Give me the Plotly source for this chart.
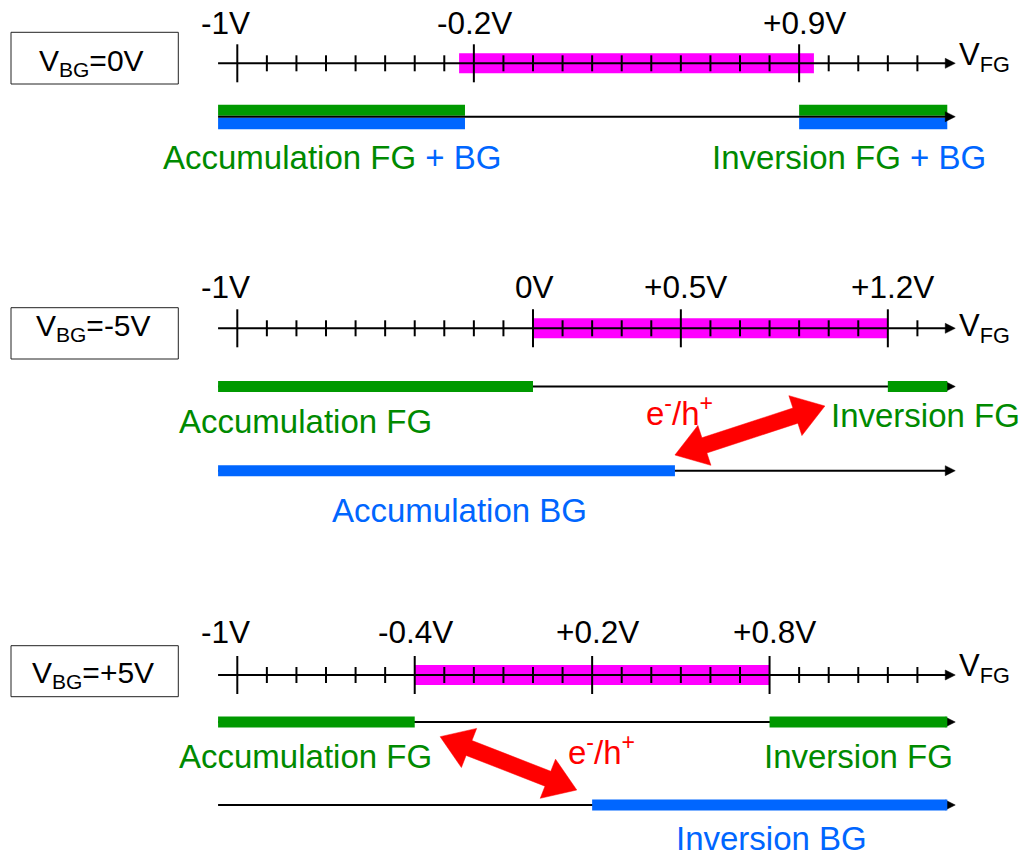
import numpy as np
import plotly.graph_objects as go

W, H = 1028, 856
FONT = "Liberation Sans, Arial, sans-serif"

# ---------------- data ----------------
panel_titles = ["V<sub>BG</sub>=0V", "V<sub>BG</sub>=-5V", "V<sub>BG</sub>=+5V"]
tick_start, tick_stop, tick_step = -1.0, 1.3, 0.1
major_ticks = [[-1.0, -0.2, 0.9], [-1.0, 0.0, 0.5, 1.2], [-1.0, -0.4, 0.2, 0.8]]
major_labels = [["-1V", "-0.2V", "+0.9V"],
                ["-1V", "0V", "+0.5V", "+1.2V"],
                ["-1V", "-0.4V", "+0.2V", "+0.8V"]]
depletion_lo = [-0.25, 0.0, -0.4]
depletion_hi = [0.95, 1.2, 0.8]
fg_accum_end = [-0.23, 0.0, -0.4]
fg_inv_start = [0.9, 1.2, 0.8]
bg_accum_end = [-0.23, 0.48, None]
bg_inv_start = [0.9, None, 0.2]
axis_start, axis_end, bar_end = -1.065, 1.428, 1.401
# e-/h+ exchange arrows: (V, px) tips
carrier_arrows = [None,
                  ((0.480, 455.0), (0.987, 406.0)),
                  ((-0.314, 736.7), (0.148, 790.0))]
region_labels = [
    [("<span style='color:#008a00'>Accumulation FG</span> <span style='color:#0066ff'>+ BG</span>", 331.7, 157.5, "#008a00"),
     ("<span style='color:#008a00'>Inversion FG</span> <span style='color:#0066ff'>+ BG</span>", 849.3, 157.5, "#008a00")],
    [("Accumulation FG", 305.0, 421.7, "#008a00"),
     ("Inversion FG", 925.9, 415.0, "#008a00"),
     ("Accumulation BG", 459.7, 510.0, "#0066ff")],
    [("Accumulation FG", 305.0, 756.0, "#008a00"),
     ("Inversion FG", 858.6, 756.0, "#008a00"),
     ("Inversion BG", 771.0, 838.0, "#0066ff")],
]
carrier_label_pos = [None, (679.0, 410.5), (601.0, 749.5)]

# ---------------- layout constants (pixels) ----------------
PX_M1 = 237.3
PX_PER_V = 295.7
x_range = [-1 - PX_M1 / PX_PER_V, -1 + (W - PX_M1) / PX_PER_V]
axis_y = [63.3, 328.3, 675.0]
fg_y = [116.7, 386.5, 722.0]
bg_y = [None, 470.7, 805.0]
tick_label_y = [23.3, 287.0, 632.2]
box_y = [(32.3, 84.0), (307.7, 359.0), (645.7, 696.7)]
box_text = [(91.7, 59.2), (93.3, 324.7), (93.3, 671.3)]
vfg_y = [51.0, 322.0, 661.5]

GREEN = "#009900"
BLUE = "#0066ff"
MAG = "#ff00ff"
RED = "#ff0000"
TICK_FS = 31.5
LABEL_FS = 33

def v2px(v):
    return PX_M1 + (v + 1) * PX_PER_V

def px2v(p):
    return -1 + (p - PX_M1) / PX_PER_V

HL = 10 / PX_PER_V  # arrowhead length in V

fig = go.Figure()
shapes = []
annotations = []

def arrow_line(y):
    fig.add_trace(go.Scatter(x=[axis_start, axis_end - HL * 0.9], y=[y, y], mode="lines",
                             line=dict(color="black", width=2), hoverinfo="skip"))
    fig.add_trace(go.Scatter(x=[axis_end - HL, axis_end, axis_end - HL, axis_end - HL],
                             y=[y - 5, y, y + 5, y - 5], mode="lines", fill="toself",
                             fillcolor="black", line=dict(color="black", width=0.5),
                             hoverinfo="skip"))

def bar(x0, x1, y0, y1, color, layer):
    shapes.append(dict(type="rect", xref="x", yref="y", x0=x0, x1=x1, y0=y0, y1=y1,
                       fillcolor=color, line=dict(width=0), layer=layer))

all_ticks = np.round(np.arange(tick_start, tick_stop + 1e-9, tick_step), 2)

for i in range(3):
    ay = axis_y[i]
    bar(depletion_lo[i], depletion_hi[i], ay - 10, ay + 10, MAG, "below")
    arrow_line(ay)
    xs, ys = [], []
    for t in all_ticks:
        half = 19 if any(abs(t - m) < 1e-6 for m in major_ticks[i]) else 8
        xs += [t, t, None]
        ys += [ay - half, ay + half, None]
    fig.add_trace(go.Scatter(x=xs, y=ys, mode="lines", line=dict(color="black", width=2),
                             hoverinfo="skip"))
    for t, lab in zip(major_ticks[i], major_labels[i]):
        shift = 5 if lab.startswith("+") else (-12 if lab == "-1V" else 1)
        annotations.append(dict(x=t, y=tick_label_y[i], xref="x", yref="y", text=lab,
                                showarrow=False, xanchor="center", yanchor="middle",
                                xshift=shift, font=dict(size=TICK_FS, color="black", family=FONT)))
    annotations.append(dict(x=957 / W, y=vfg_y[i], xref="paper", yref="y",
                            text="V<sub>FG</sub>", showarrow=False, xanchor="left",
                            yanchor="middle", yshift=-6,
                            font=dict(size=31, color="black", family=FONT)))
    shapes.append(dict(type="rect", xref="paper", yref="y", x0=11 / W, x1=178.3 / W,
                       y0=box_y[i][0], y1=box_y[i][1], line=dict(color="#222", width=1),
                       fillcolor="rgba(0,0,0,0)"))
    annotations.append(dict(x=box_text[i][0] / W, y=box_text[i][1], xref="paper", yref="y",
                            text=panel_titles[i], showarrow=False, xanchor="center",
                            yanchor="middle", yshift=-3,
                            font=dict(size=30, color="black", family=FONT)))

    fy = fg_y[i]
    arrow_line(fy)
    if bg_y[i] is None:
        bar(axis_start, fg_accum_end[i], fy - 12, fy - 1.0, GREEN, "below")
        bar(axis_start, bg_accum_end[i], fy + 1.0, fy + 12.5, BLUE, "below")
        bar(fg_inv_start[i], bar_end, fy - 12, fy - 1.0, GREEN, "below")
        bar(bg_inv_start[i], bar_end, fy + 1.0, fy + 12.5, BLUE, "below")
    else:
        bar(axis_start, fg_accum_end[i], fy - 5.5, fy + 5.5, GREEN, "above")
        bar(fg_inv_start[i], bar_end, fy - 5.5, fy + 5.5, GREEN, "above")
        by = bg_y[i]
        arrow_line(by)
        if bg_accum_end[i] is not None:
            bar(axis_start, bg_accum_end[i], by - 5.5, by + 5.5, BLUE, "above")
        if bg_inv_start[i] is not None:
            bar(bg_inv_start[i], bar_end, by - 5.5, by + 5.5, BLUE, "above")

    for text, px, py, col in region_labels[i]:
        annotations.append(dict(x=px / W, y=py, xref="paper", yref="y", text=text,
                                showarrow=False, xanchor="center", yanchor="middle",
                                font=dict(size=LABEL_FS, color=col, family=FONT)))

    if carrier_arrows[i] is not None:
        (va, ya), (vb, yb) = carrier_arrows[i]
        A = np.array([v2px(va), ya])
        B = np.array([v2px(vb), yb])
        u = (B - A) / np.linalg.norm(B - A)
        n = np.array([-u[1], u[0]])
        hl, hw, sw = 31.0, 21.0, 8.0
        Ab = A + u * hl
        Bb = B - u * hl
        pts = [A, Ab + n * hw, Ab + n * sw, Bb + n * sw, Bb + n * hw, B,
               Bb - n * hw, Bb - n * sw, Ab - n * sw, Ab - n * hw, A]
        fig.add_trace(go.Scatter(x=[px2v(p[0]) for p in pts], y=[p[1] for p in pts],
                                 mode="lines", fill="toself", fillcolor=RED,
                                 line=dict(color=RED, width=0.5), hoverinfo="skip"))
        lx, ly = carrier_label_pos[i]
        annotations.append(dict(x=lx / W, y=ly, xref="paper", yref="y",
                                text="e<sup>-</sup>/h<sup>+</sup>", showarrow=False,
                                xanchor="center", yanchor="middle",
                                font=dict(size=LABEL_FS, color=RED, family=FONT)))

fig.update_layout(
    width=W, height=H,
    margin=dict(l=0, r=0, t=0, b=0),
    paper_bgcolor="white", plot_bgcolor="white",
    showlegend=False,
    xaxis=dict(range=x_range, visible=False, fixedrange=True),
    yaxis=dict(range=[H, 0], visible=False, fixedrange=True),
    shapes=shapes, annotations=annotations,
)
fig.write_html("out.html", config={"displayModeBar": False},
               post_script="document.body.style.margin='0px';document.body.style.overflow='hidden';")
